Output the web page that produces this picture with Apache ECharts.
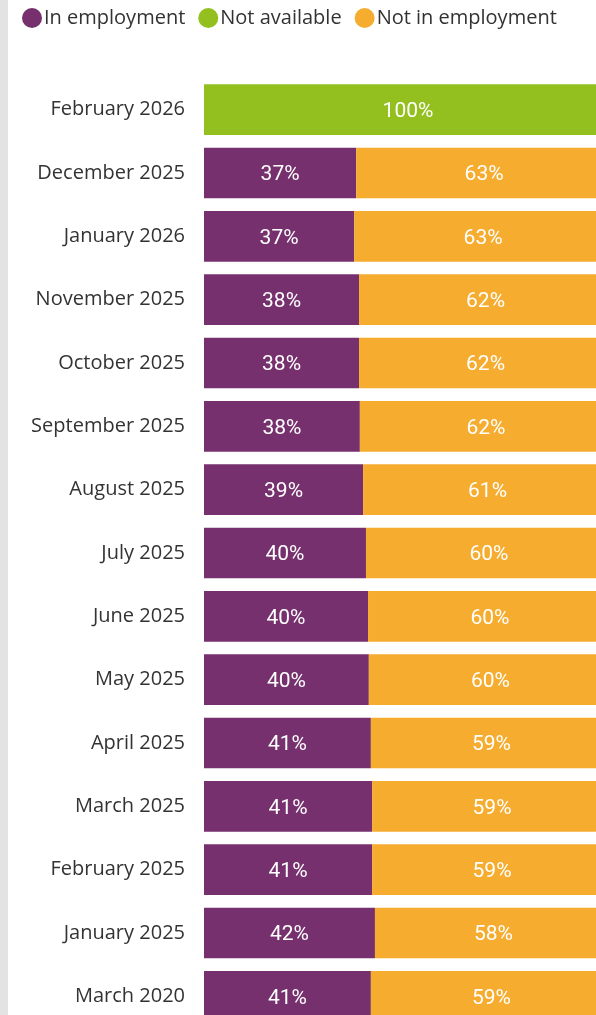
<!DOCTYPE html>
<html>
<head>
<meta charset="utf-8">
<script src="https://cdn.jsdelivr.net/npm/echarts@6/dist/echarts.min.js"></script>
<style>
  html, body { margin: 0; padding: 0; background: #fff; overflow: hidden; width: 596px; height: 1015px; }
  #chart { width: 612px; height: 1028px; }
  #strip { position: absolute; left: 0; top: 0; width: 8px; height: 1015px; background: #e3e3e3; z-index: 2; }
</style>
</head>
<body>
<div id="strip"></div>
<div id="chart"></div>
<script>
// categories, top to bottom
const months = [
  'February 2026', 'December 2025', 'January 2026', 'November 2025', 'October 2025',
  'September 2025', 'August 2025', 'July 2025', 'June 2025', 'May 2025',
  'April 2025', 'March 2025', 'February 2025', 'January 2025', 'March 2020'
];
// share in %
const inEmployment = [0, 37.3, 36.8, 38.0, 38.0, 38.2, 39.0, 39.7, 40.2, 40.4, 40.9, 41.2, 41.2, 41.9, 40.9];
const notAvailable = [100, 0, 0, 0, 0, 0, 0, 0, 0, 0, 0, 0, 0, 0, 0];
const notInEmployment = [0, 62.7, 63.2, 62.0, 62.0, 61.8, 61.0, 60.3, 59.8, 59.6, 59.1, 58.8, 58.8, 58.1, 59.1];

// chart box is a bit larger than the window; the reference is cropped on the right and bottom
const chart = echarts.init(document.getElementById('chart'));

// 数据标签：只显示非零值
const barLabel = {
  show: true,
  position: 'inside',
  offset: [0, 2],
  color: '#fff',
  fontFamily: 'Roboto',
  fontSize: 21,
  formatter: p => (p.value > 0 ? `${Math.round(p.value)}%` : '')
};

const makeSeries = (name, data, color) => ({
  name,
  type: 'bar',
  stack: 'total',
  barWidth: '80%',
  data,
  itemStyle: { color },
  label: barLabel,
  emphasis: { disabled: true }
});

chart.setOption({
  animation: false,
  legend: {
    left: 17,
    top: 3,
    icon: 'circle',
    itemWidth: 20,
    itemHeight: 20,
    itemGap: 13,
    textStyle: { fontFamily: 'Open Sans', fontSize: 20, color: '#333', padding: [0, 0, 0, -3] },
    data: ['In employment', 'Not available', 'Not in employment']
  },
  grid: { left: 204, right: 0, top: 78, bottom: 0, containLabel: false },
  xAxis: {
    type: 'value',
    min: 0,
    max: 100,
    show: false
  },
  yAxis: {
    type: 'category',
    inverse: true,
    data: months,
    axisLine: { show: false },
    axisTick: { show: false },
    axisLabel: {
      margin: 19,
      fontFamily: 'Open Sans',
      fontSize: 20,
      color: '#333'
    }
  },
  series: [
    makeSeries('In employment', inEmployment, '#76306e'),
    makeSeries('Not available', notAvailable, '#93c01f'),
    makeSeries('Not in employment', notInEmployment, '#f5ac2f')
  ]
});
</script>
</body>
</html>
